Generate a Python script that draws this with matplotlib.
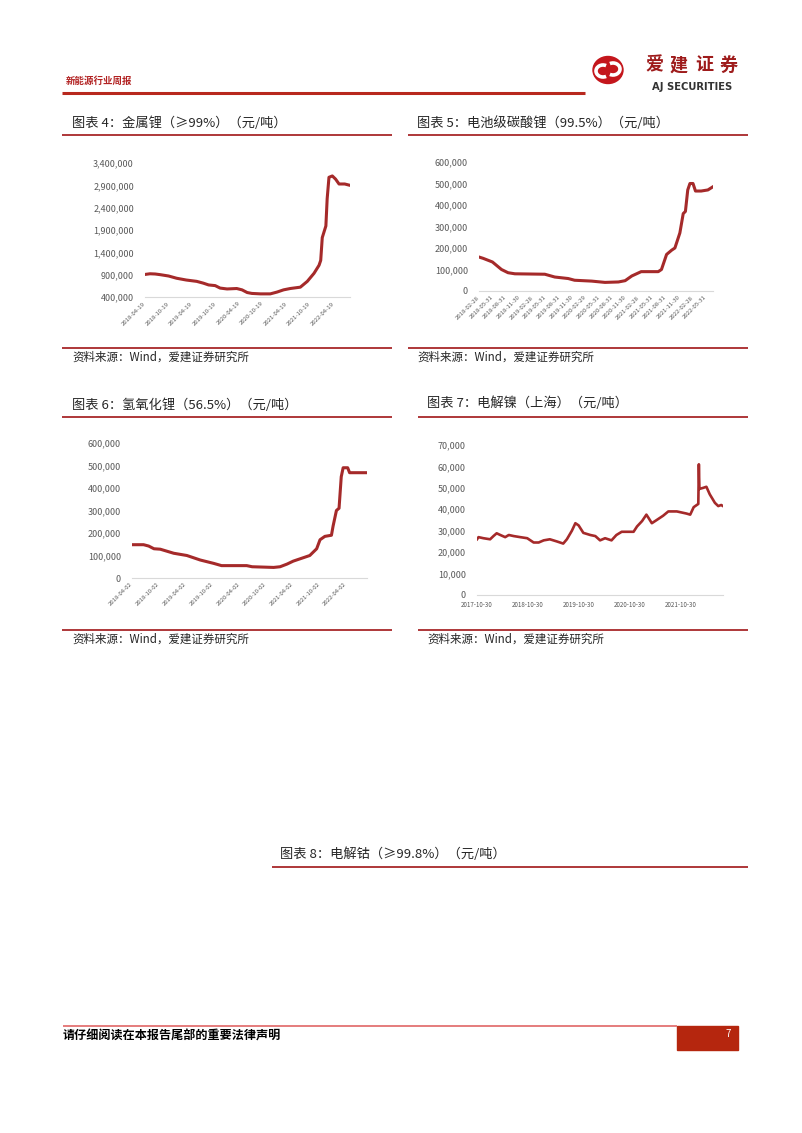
import numpy as np
import pandas as pd
import matplotlib
matplotlib.use("Agg")
import matplotlib.pyplot as plt
from matplotlib.patches import Rectangle, Ellipse, Arc
from matplotlib.ticker import FuncFormatter

plt.rcParams['font.family'] = ['Noto Sans CJK SC', 'DejaVu Sans']

W, H = 802, 1133
SERIES = '#A52A2A'
RULE = '#A8282A'
GREY = '#595959'

# 图表4 金属锂
li_metal_dates = ['2018-04-19', '2018-05-28', '2018-07-07', '2018-08-15', '2018-10-19', '2018-12-20',
                  '2019-03-05', '2019-05-25', '2019-07-15', '2019-08-25', '2019-10-15', '2019-11-22',
                  '2020-01-15', '2020-03-30', '2020-05-10', '2020-06-19', '2020-07-25', '2020-09-30',
                  '2020-12-15', '2021-02-05', '2021-03-28', '2021-05-19', '2021-08-05', '2021-09-28',
                  '2021-11-19', '2021-12-28', '2022-01-10', '2022-01-22', '2022-02-19', '2022-03-01',
                  '2022-03-15', '2022-04-10', '2022-05-05', '2022-06-01', '2022-07-15', '2022-08-25']
li_metal_vals = [905000, 920000, 915000, 900000, 870000, 820000,
                 780000, 750000, 710000, 670000, 655000, 600000,
                 580000, 590000, 560000, 500000, 480000, 470000,
                 470000, 510000, 560000, 590000, 620000, 750000,
                 930000, 1110000, 1220000, 1730000, 1990000, 2600000,
                 3080000, 3110000, 3040000, 2930000, 2930000, 2900000]
li_metal_ticks = ['2018-04-19', '2018-10-19', '2019-04-19', '2019-10-19', '2020-04-19',
                  '2020-10-19', '2021-04-19', '2021-10-19', '2022-04-19']

# 图表5 电池级碳酸锂
li2co3_dates = ['2018-02-28', '2018-03-28', '2018-05-31', '2018-08-01', '2018-09-15', '2018-11-01',
                '2019-05-25', '2019-08-01', '2019-11-01', '2019-12-15', '2020-04-10', '2020-07-10',
                '2020-10-10', '2020-11-25', '2021-01-10', '2021-03-15', '2021-07-10', '2021-08-01',
                '2021-09-05', '2021-10-10', '2021-11-01', '2021-12-05', '2021-12-28', '2022-01-12',
                '2022-01-28', '2022-02-12', '2022-03-05', '2022-03-22', '2022-04-30', '2022-06-15',
                '2022-07-20']
li2co3_vals = [158000, 152000, 135000, 100000, 85000, 80000,
               78000, 65000, 58000, 50000, 46000, 40000,
               42000, 48000, 70000, 90000, 90000, 100000,
               170000, 190000, 200000, 270000, 360000, 370000,
               470000, 500000, 500000, 465000, 465000, 470000,
               485000]
li2co3_ticks = ['2018-02-28', '2018-05-31', '2018-08-31', '2018-11-30', '2019-02-28', '2019-05-31',
                '2019-08-31', '2019-11-30', '2020-02-29', '2020-05-31', '2020-08-31', '2020-11-30',
                '2021-02-28', '2021-05-31', '2021-08-31', '2021-11-30', '2022-02-28', '2022-05-31']

# 图表6 氢氧化锂
lioh_dates = ['2018-04-02', '2018-06-20', '2018-07-25', '2018-08-30', '2018-10-12', '2019-01-12',
              '2019-04-12', '2019-07-12', '2019-10-12', '2019-12-05', '2020-02-25', '2020-05-25',
              '2020-07-01', '2020-11-25', '2021-01-08', '2021-02-25', '2021-04-08', '2021-06-15',
              '2021-07-30', '2021-09-15', '2021-10-08', '2021-11-10', '2021-12-25', '2022-01-05',
              '2022-01-28', '2022-02-15', '2022-03-02', '2022-03-15', '2022-04-15', '2022-04-28',
              '2022-08-25']
lioh_vals = [148000, 148000, 142000, 130000, 128000, 110000,
             100000, 80000, 65000, 55000, 55000, 55000,
             50000, 47000, 50000, 62000, 75000, 90000,
             100000, 130000, 170000, 185000, 190000, 230000,
             300000, 310000, 450000, 490000, 490000, 468000,
             468000]
lioh_ticks = ['2018-04-02', '2018-10-02', '2019-04-02', '2019-10-02', '2020-04-02',
              '2020-10-02', '2021-04-02', '2021-10-02', '2022-04-02']

# 图表7 电解镍（上海）
nickel_dates = ['2017-10-30', '2017-11-10', '2017-12-15', '2018-02-01', '2018-02-25', '2018-03-20',
                '2018-04-15', '2018-05-20', '2018-06-15', '2018-07-20', '2018-09-05', '2018-10-25',
                '2018-12-10', '2019-01-15', '2019-02-20', '2019-04-05', '2019-05-25', '2019-07-10',
                '2019-08-05', '2019-09-10', '2019-10-05', '2019-10-28', '2019-12-01', '2020-01-20',
                '2020-02-25', '2020-03-30', '2020-05-05', '2020-06-20', '2020-07-25', '2020-09-01',
                '2020-11-25', '2020-12-20', '2021-01-25', '2021-02-25', '2021-03-12', '2021-04-05',
                '2021-05-10', '2021-06-25', '2021-08-01', '2021-10-01', '2021-12-10', '2022-01-05',
                '2022-01-30', '2022-03-04', '2022-03-08', '2022-03-12', '2022-04-08', '2022-05-01',
                '2022-05-25', '2022-07-01', '2022-07-25', '2022-08-15', '2022-08-28']
nickel_vals = [26000, 27000, 26500, 26000, 27500, 28800,
               28000, 27000, 28000, 27500, 27000, 26500,
               24500, 24500, 25500, 26000, 25000, 24000,
               26000, 30000, 33500, 32500, 29000, 28000,
               27500, 25500, 26500, 25500, 28000, 29500,
               29500, 32000, 34500, 37500, 36000, 33500,
               35000, 37000, 39000, 39000, 38000, 37500,
               41000, 42500, 61000, 49500, 50000, 50500,
               47000, 43000, 41500, 42000, 41500]
nickel_ticks = ['2017-10-30', '2018-10-30', '2019-10-30', '2020-10-30', '2021-10-30']

fig = plt.figure(figsize=(W / 100, H / 100), dpi=100)
page = fig.add_axes([0, 0, 1, 1])
page.set_xlim(0, W)
page.set_ylim(H, 0)
page.axis('off')


def hline(y, x0, x1, color=RULE, lw=1.3):
    page.plot([x0, x1], [y, y], color=color, lw=lw, solid_capstyle='butt')


def chart_axes(x0, y0, x1, y1):
    return fig.add_axes([x0 / W, 1 - y1 / H, (x1 - x0) / W, (y1 - y0) / H])


def draw_series(ax, dates, vals, yticks, xticks, rot=45, lw=2.2):
    d = pd.to_datetime(dates)
    ax.plot(d, vals, color=SERIES, lw=lw, solid_joinstyle='round')
    ax.set_xlim(d.min(), d.max())
    ax.set_ylim(yticks[0], yticks[-1])
    ax.set_yticks(yticks)
    ax.yaxis.set_major_formatter(FuncFormatter(lambda v, _: f"{int(v):,}"))
    ax.set_xticks(pd.to_datetime(xticks))
    if rot:
        ax.set_xticklabels(xticks, rotation=rot, ha='right', va='center',
                           rotation_mode='anchor', fontsize=4.3, color=GREY)
    else:
        ax.set_xticklabels(xticks, fontsize=4.5, color=GREY)
    ax.tick_params(axis='x', pad=4)
    ax.tick_params(axis='y', labelsize=6.5, labelcolor=GREY, pad=8)
    ax.tick_params(length=0)
    for s in ['top', 'right', 'left']:
        ax.spines[s].set_visible(False)
    ax.spines['bottom'].set_color('#D9D9D9')
    ax.spines['bottom'].set_linewidth(0.8)
    ax.patch.set_alpha(0)


# header
page.text(66, 81, '新能源行业周报', fontsize=6.8, color='#B22222', fontweight='bold', va='center')
hline(92.5, 62, 585, color='#B8281E', lw=2.2)
page.add_patch(Ellipse((608, 70), 30, 27, color='#C4161C'))
page.add_patch(Arc((603, 71), 14, 12, theta1=60, theta2=300, color='white', lw=2.6))
page.add_patch(Arc((613, 69), 14, 12, theta1=240, theta2=120, color='white', lw=2.6))
for i, ch in enumerate('爱建证券'):
    page.text(654 + i * 25, 65, ch, fontsize=13, color='#9E1B1B', fontweight='bold',
              ha='center', va='center')
page.text(692, 86.5, 'AJ SECURITIES', fontsize=7.2, color='#333333', fontweight='bold',
          ha='center', va='center', family='DejaVu Sans')

# titles and rules
title_kw = dict(fontsize=9.5, color='#262626', va='center')
src_kw = dict(fontsize=8.3, color='#262626', va='center')
src = '资料来源：Wind，爱建证券研究所'

page.text(72, 123, '图表 4：金属锂（≥99%）（元/吨）', **title_kw)
hline(135, 62, 392)
hline(348, 62, 392)
page.text(72, 357, src, **src_kw)

page.text(417, 123, '图表 5：电池级碳酸锂（99.5%）（元/吨）', **title_kw)
hline(135, 408, 748)
hline(348, 408, 748)
page.text(417, 357, src, **src_kw)

page.text(72, 405, '图表 6：氢氧化锂（56.5%）（元/吨）', **title_kw)
hline(417, 62, 392)
hline(630, 62, 392)
page.text(72, 639, src, **src_kw)

page.text(427, 403, '图表 7：电解镍（上海）（元/吨）', **title_kw)
hline(417, 418, 748)
hline(630, 418, 748)
page.text(427, 639, src, **src_kw)

page.text(280, 854, '图表 8：电解钴（≥99.8%）（元/吨）', **title_kw)
hline(867, 272, 748)

# footer
hline(1026, 63, 677, color='#E06666', lw=1.2)
page.add_patch(Rectangle((677, 1026), 61, 24, color='#B5260E'))
page.text(728, 1034, '7', fontsize=7, color='white', ha='center', va='center')
page.text(63, 1036, '请仔细阅读在本报告尾部的重要法律声明', fontsize=8.7, color='black',
          fontweight='bold', va='center')

# charts
ax4 = chart_axes(145, 163, 350, 297)
draw_series(ax4, li_metal_dates, li_metal_vals, np.arange(400000, 3400001, 500000), li_metal_ticks)

ax5 = chart_axes(479, 162, 713, 291)
draw_series(ax5, li2co3_dates, li2co3_vals, np.arange(0, 600001, 100000), li2co3_ticks)

ax6 = chart_axes(132, 443, 367, 578)
draw_series(ax6, lioh_dates, lioh_vals, np.arange(0, 600001, 100000), lioh_ticks)

ax7 = chart_axes(477, 445, 723, 595)
draw_series(ax7, nickel_dates, nickel_vals, np.arange(0, 70001, 10000), nickel_ticks, rot=0, lw=1.9)

fig.savefig('out.png', dpi=100)
